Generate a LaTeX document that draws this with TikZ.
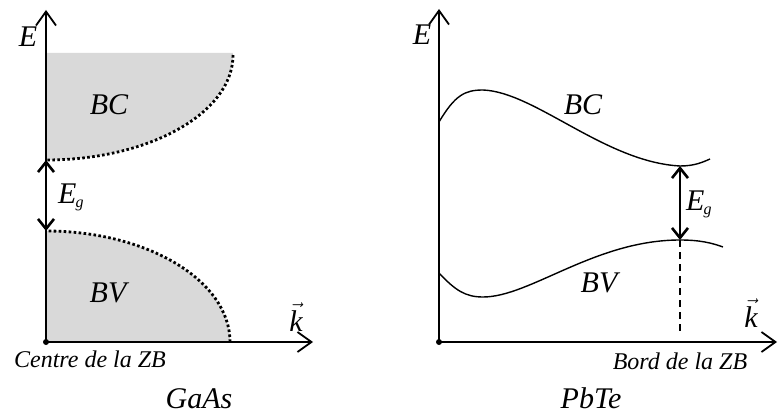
\documentclass[tikz,border=0pt]{standalone}
\usepackage{fontspec}
\setmainfont{Liberation Serif}
\usetikzlibrary{arrows.meta}
\begin{document}
\begin{tikzpicture}[x=1pt,y=1pt,
 axis/.style={line width=1.8pt,-{Straight Barb[length=14pt,width=20pt,line width=1.8pt]}},
 gap/.style={line width=2.6pt,{Straight Barb[length=10pt,width=16pt]}-{Straight Barb[length=10pt,width=16pt]}},
 band/.style={line width=1.4pt},
 bdot/.style={line width=2.8pt,dash pattern=on 2.6pt off 2.4pt},
 fillg/.style={fill=black!15},
 lab/.style={font=\fontsize{30}{32}\selectfont\itshape,inner sep=0pt,anchor=base},
 capt/.style={font=\fontsize{24}{26}\selectfont\itshape,inner sep=0pt,anchor=base},
 org/.style={circle,fill=black,inner sep=0pt,minimum size=6pt},
]
\useasboundingbox (0,0) rectangle (778,-414);
% ---------- GaAs ----------
\fill[fillg] (46,-53) -- (233,-53) arc[start angle=0,end angle=-90,x radius=187,y radius=107] -- cycle;
\fill[fillg] (46,-342) -- (230,-342) arc[start angle=0,end angle=90,x radius=184,y radius=111] -- cycle;
\draw[bdot] (233,-55) arc[start angle=0,end angle=-90,x radius=187,y radius=105];
\draw[bdot] (230,-342) arc[start angle=0,end angle=90,x radius=184,y radius=111];
\node[org] (o1) at (46,-342) {};
\coordinate (y1) at (46,-10);
\coordinate (x1) at (313,-342);
\draw[axis] (o1.center) -- (y1);
\draw[axis] (o1.center) -- (x1);
\coordinate (c1) at (46,-160);
\coordinate (v1) at (46,-231);
\draw[gap] (c1) -- (v1);
\node[lab] (E1) at (28,-47) {E};
\node[lab] (BC1) at (109,-115) {BC};
\node[lab] (BV1) at (108,-302) {BV};
\node[lab,anchor=base west] (Eg1) at (58,-203) {E\kern-1pt\raisebox{-4pt}{\fontsize{16}{16}\selectfont g}};
\node[lab] (k1) at (296,-331) {$\vec{\mbox{\itshape k}}$};
\node[capt] (cz) at (90,-367) {Centre de la ZB};
\node[lab] (gaas) at (199,-408) {GaAs};
% ---------- PbTe ----------
\node[org] (o2) at (439,-342) {};
\coordinate (y2) at (439,-9);
\coordinate (x2) at (777,-342);
\draw[axis] (o2.center) -- (y2);
\draw[axis] (o2.center) -- (x2);
\coordinate (cb) at (680,-166);
\coordinate (vb) at (680,-240);
\draw[band] (439,-122) .. controls (455,-95) and (465,-90) .. (483,-90)
  .. controls (535,-92) and (605,-162) .. (cb)
  .. controls (695,-166) and (703,-162) .. (710,-159);
\draw[band] (439,-273) .. controls (455,-290) and (465,-297) .. (483,-297)
  .. controls (530,-297) and (595,-240) .. (vb)
  .. controls (700,-240) and (712,-243) .. (723,-247);
\draw[gap] (cb) -- (vb);
\coordinate (db) at (680,-335);
\draw[line width=1.4pt,dash pattern=on 7pt off 5pt] (vb) -- (db);
\node[lab] (E2) at (422,-45) {E};
\node[lab] (BC2) at (583,-115) {BC};
\node[lab] (BV2) at (599,-292) {BV};
\node[lab,anchor=base west] (Eg2) at (686,-210) {E\kern-1pt\raisebox{-4pt}{\fontsize{16}{16}\selectfont g}};
\node[lab] (k2) at (751,-327) {$\vec{\mbox{\itshape k}}$};
\node[capt] (bz) at (680,-369) {Bord de la ZB};
\node[lab] (pbte) at (591,-408) {PbTe};
\end{tikzpicture}
\end{document}
